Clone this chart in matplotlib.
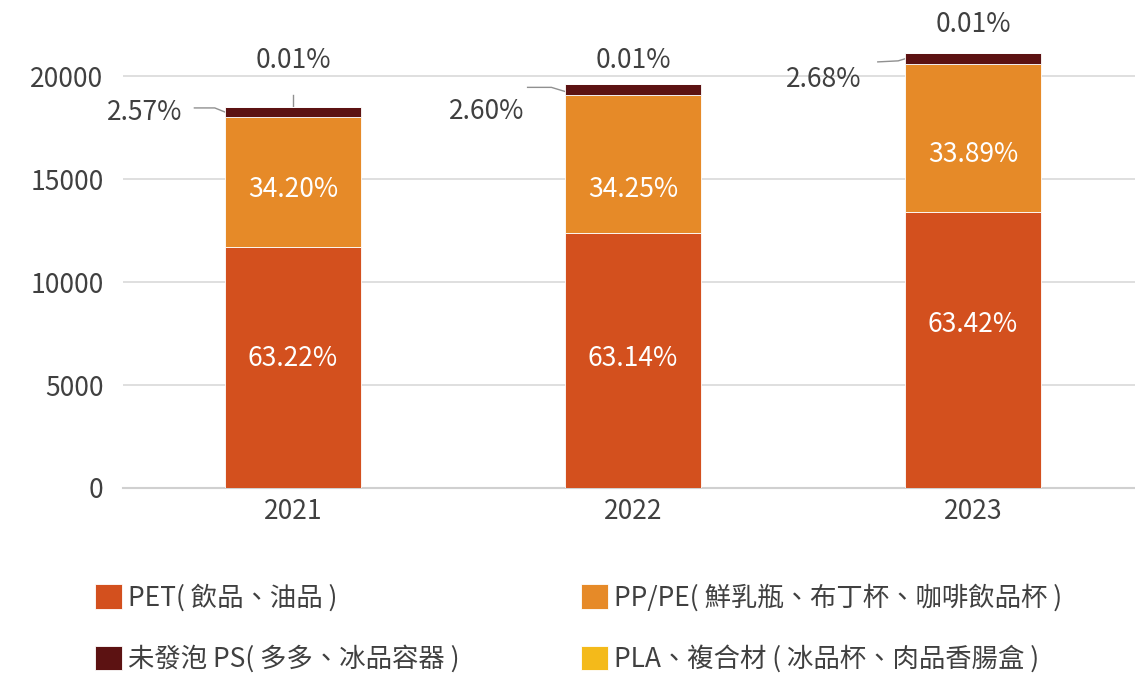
import matplotlib
matplotlib.use("Agg")
import matplotlib.pyplot as plt
import numpy as np

plt.rcParams['font.family'] = ['Noto Sans CJK TC', 'DejaVu Sans']

# data
years = ['2021', '2022', '2023']
pet = [11700, 12380, 13410]
pp_pe = [6330, 6715, 7165]
ps = [476, 510, 567]
pla = [2, 2, 2]

pet_labels = ['63.22%', '63.14%', '63.42%']
pp_labels = ['34.20%', '34.25%', '33.89%']
ps_labels = ['2.57%', '2.60%', '2.68%']
pla_labels = ['0.01%', '0.01%', '0.01%']

series_names = ['PET( 飲品、油品 )', 'PP/PE( 鮮乳瓶、布丁杯、咖啡飲品杯 )',
                '未發泡 PS( 多多、冰品容器 )', 'PLA、複合材 ( 冰品杯、肉品香腸盒 )']
colors = ['#D3501E', '#E68A28', '#5C1212', '#F4BA1A']

# label placement (y in data units, as laid out in the original)
pet_label_y = [6300, 6300, 7950]
pp_label_y = [14500, 14500, 16200]

W, H = 1135, 673
fig = plt.figure(figsize=(W / 100, H / 100), dpi=100)
# axes in pixel coords: x from 123 to 1143, y from 488 (0) to 35
ax = fig.add_axes([123 / W, (H - 488) / H, 1020 / W, (488 - 35) / H])

x = np.arange(len(years))
bw = 0.4
fs = 19
txt = '#404040'
bottom = np.zeros(len(years))
handles = []
for vals, c, name in zip([pet, pp_pe, ps, pla], colors, series_names):
    b = ax.bar(x, vals, bw, bottom=bottom, color=c, edgecolor='white', linewidth=0.6,
               label=name, zorder=3)
    handles.append(b)
    bottom = bottom + np.array(vals)

for i in range(len(years)):
    ax.text(x[i], pet_label_y[i], pet_labels[i], color='white', fontsize=fs,
            ha='center', va='center', zorder=5)
    ax.text(x[i], pp_label_y[i], pp_labels[i], color='white', fontsize=fs,
            ha='center', va='center', zorder=5)

# outside labels with leader lines
tot = bottom
lc = '#909090'
# 2021
ax.text(-0.435, tot[0] - 250, ps_labels[0], color=txt, fontsize=fs, ha='center', va='center')
ax.plot([-0.29, -0.23, -0.2], [tot[0] - 50, tot[0] - 50, tot[0] - 250], color=lc, lw=1)
ax.text(0, 20750, pla_labels[0], color=txt, fontsize=fs, ha='center', va='center')
ax.plot([0, 0], [tot[0] + 50, tot[0] + 600], color=lc, lw=1)
# 2022
ax.text(0.57, tot[1] - 1300, ps_labels[1], color=txt, fontsize=fs, ha='center', va='center')
ax.plot([0.69, 0.76, 0.8], [tot[1] - 150, tot[1] - 150, tot[1] - 350], color=lc, lw=1)
ax.text(1, 20750, pla_labels[1], color=txt, fontsize=fs, ha='center', va='center')
# 2023
ax.text(1.56, tot[2] - 1300, ps_labels[2], color=txt, fontsize=fs, ha='center', va='center')
ax.plot([1.72, 1.78, 1.8], [tot[2] - 450, tot[2] - 400, tot[2] - 300], color=lc, lw=1)
ax.text(2, 22500, pla_labels[2], color=txt, fontsize=fs, ha='center', va='center', clip_on=False)

ax.set_xlim(-0.5, 2.5)
ax.set_ylim(0, 22000)
ax.set_yticks([0, 5000, 10000, 15000, 20000])
ax.set_xticks(x)
ax.set_xticklabels(years)
ax.tick_params(length=0, labelsize=fs, labelcolor=txt)
ax.tick_params(axis='y', pad=14)
ax.tick_params(axis='x', pad=7)
ax.grid(axis='y', color='#d9d9d9', lw=1.2, zorder=0)
for s in ['top', 'right', 'left']:
    ax.spines[s].set_visible(False)
ax.spines['bottom'].set_color('#d0d0d0')
ax.spines['bottom'].set_linewidth(1.5)

order = [0, 2, 1, 3]
leg = fig.legend([handles[k] for k in order], [series_names[k] for k in order],
                 ncol=2, loc='upper left', bbox_to_anchor=(71 / W, 1 - 560 / H),
                 frameon=False, fontsize=fs, labelcolor=txt,
                 handlelength=1.05, handleheight=1.05, handletextpad=0.2,
                 columnspacing=4.6, labelspacing=1.28)

fig.savefig('out.png', dpi=100)
